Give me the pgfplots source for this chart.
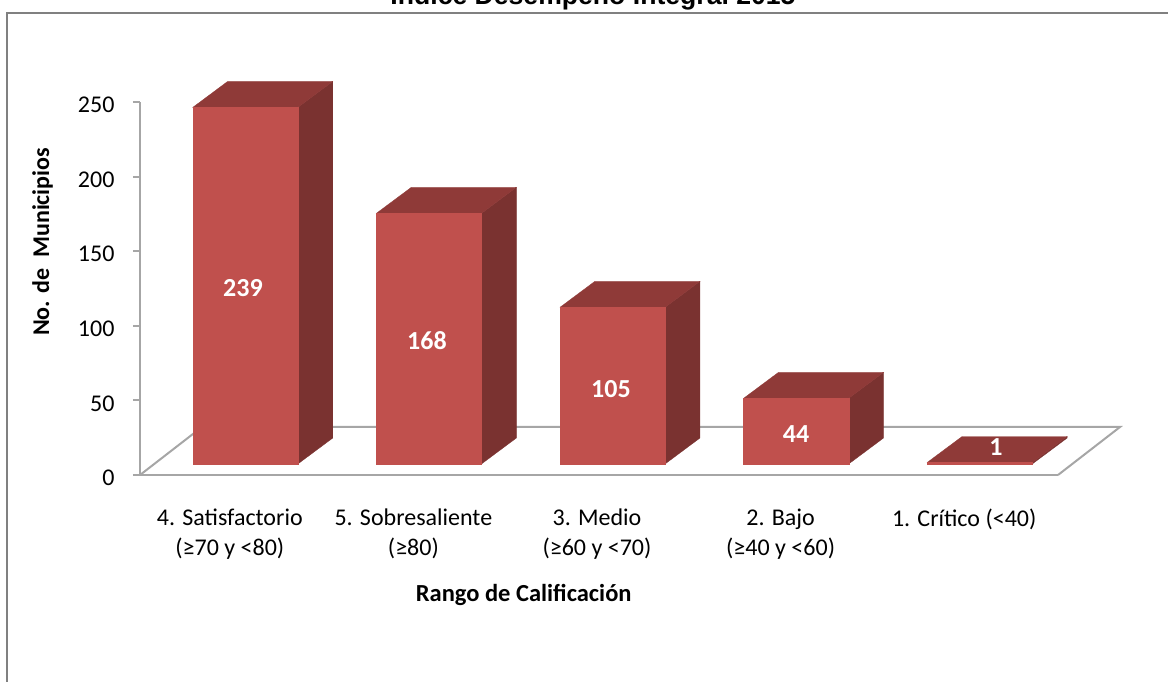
\documentclass[border=0pt]{standalone}
\usepackage{pgfplots}
\usepackage{fontspec}
\setmainfont{Carlito}
\newfontfamily\titlefont{Liberation Sans}
\pgfplotsset{compat=1.18}
\definecolor{barfront}{HTML}{C0504D}
\definecolor{barside}{HTML}{7A3230}
\definecolor{bartop}{HTML}{8F3A38}
\definecolor{axgrey}{HTML}{A6A6A6}
\definecolor{frameg}{HTML}{808080}
\newcommand\cuboid[2]{%
  \pgfmathsetmacro\xL{#1-0.2124}\pgfmathsetmacro\xR{#1+0.36}%
  \pgfmathsetmacro\xBL{#1-0.0224}\pgfmathsetmacro\xBR{#1+0.55}%
  \pgfmathsetmacro\yF{7.4+#2}\pgfmathsetmacro\yB{24.8+#2}%
  \addplot[fill=barside,draw=barside,line width=0.3pt] coordinates {(\xR,7.4) (\xBR,24.8) (\xBR,\yB) (\xR,\yF)} --cycle;
  \addplot[fill=bartop,draw=bartop,line width=0.3pt] coordinates {(\xL,\yF) (\xR,\yF) (\xBR,\yB) (\xBL,\yB)} --cycle;
  \addplot[fill=barfront,draw=barfront,line width=0.3pt] coordinates {(\xL,7.4) (\xR,7.4) (\xR,\yF) (\xL,\yF)} --cycle;
}
\begin{document}
\begin{tikzpicture}[x=1pt,y=1pt]
\path[use as bounding box,clip] (0,0) rectangle (1168,682);
\draw[frameg,line width=2pt] (7,0) -- (7,669) -- (1168,669);
\node[font=\titlefont\bfseries\fontsize{26.6}{30}\selectfont,anchor=base] at (593,677) {Indice Desempeño Integral 2015};
\begin{axis}[
  at={(140pt,207pt)},anchor=south west,
  scale only axis,width=918pt,height=373pt,
  xmin=-0.5,xmax=4.5,ymin=0,ymax=250,
  clip=false,
  axis x line=bottom,axis y line=left,
  axis line style={axgrey,line width=2pt,-},
  xtick={0,1,2,3,4},
  xticklabels={{4. Satisfactorio\\(≥70 y <80)},{5. Sobresaliente\\(≥80)},{3. Medio\\(≥60 y <70)},{2. Bajo\\(≥40 y <60)},{1. Crítico (<40)}},
  xticklabel style={align=center,anchor=north,font=\fontsize{24}{30}\selectfont,yshift=-23pt,xshift=-2pt},
  x tick style={draw=none},
  ytick={0,50,100,150,200,250},
  yticklabel style={font=\fontsize{24}{28}\selectfont,xshift=-15pt,yshift=-3pt},
  /pgf/number format/assume math mode=true,
  y tick style={axgrey,line width=2pt},
  tick align=outside,major tick length=7pt,
  xlabel={Rango de Calificación},
  ylabel={No. de\ \ Municipios},
  xlabel style={font=\bfseries\fontsize{24.5}{28}\selectfont,at={(axis description cs:0.418,-0.322)},anchor=center},
  ylabel style={font=\bfseries\fontsize{24}{28}\selectfont,at={(axis description cs:-0.106,0.625)},anchor=center,rotate=0},
]
\addplot[axgrey,line width=2pt,no markers] coordinates {(-0.5,0) (-0.162,32.2) (4.838,32.2) (4.5,0)};
\cuboid{0}{239}
\cuboid{1}{168}
\cuboid{2}{105}
\cuboid{3}{44}
\cuboid{4}{1}
\node[white,font=\bfseries\fontsize{26}{30}\selectfont] at (axis cs:0.061,125.3) {239};
\node[white,font=\bfseries\fontsize{26}{30}\selectfont] at (axis cs:1.063,89.8) {168};
\node[white,font=\bfseries\fontsize{26}{30}\selectfont] at (axis cs:2.065,57.6) {105};
\node[white,font=\bfseries\fontsize{26}{30}\selectfont] at (axis cs:3.073,27.5) {44};
\node[white,font=\bfseries\fontsize{26}{30}\selectfont] at (axis cs:4.162,18.8) {1};
\end{axis}
\end{tikzpicture}
\end{document}
